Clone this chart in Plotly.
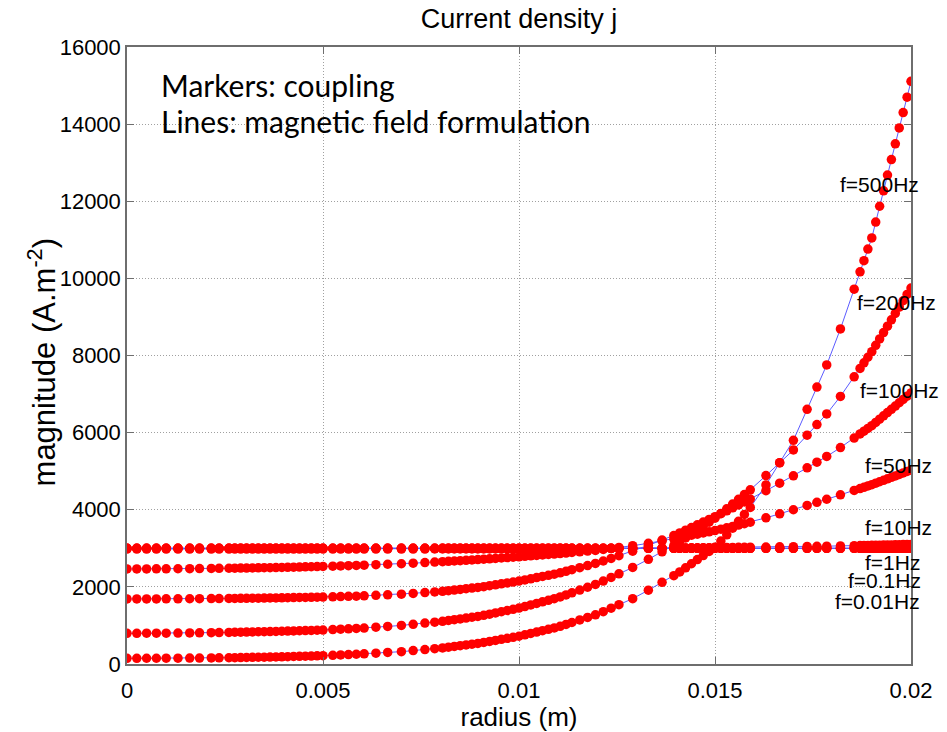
import plotly.graph_objects as go

# Radial mesh nodes (m)
radius = [
    0.0, 0.00025, 0.0005, 0.00075, 0.001, 0.0013, 0.0016, 0.00185, 0.00215, 0.00235,
    0.0026, 0.00275, 0.0029, 0.00305, 0.0032, 0.00335, 0.0035, 0.00365, 0.0038, 0.00395,
    0.0041, 0.00425, 0.0044, 0.00455, 0.0047, 0.00485, 0.005,
    0.00525, 0.00545, 0.00565, 0.00585, 0.00605, 0.00635, 0.00665, 0.007, 0.0073, 0.0076,
    0.00785, 0.00805,
    0.0082, 0.00835, 0.0085, 0.00865, 0.0088, 0.00895, 0.0091, 0.00925, 0.0094, 0.00955,
    0.0097, 0.00985, 0.01, 0.01015, 0.0103, 0.01045, 0.0106, 0.01075, 0.0109, 0.01105,
    0.0112, 0.01135,
    0.01155, 0.01175, 0.01195, 0.01215, 0.01235, 0.01255, 0.0129, 0.0133, 0.01365, 0.01395,
    0.0141, 0.01425, 0.0144, 0.01455, 0.0147, 0.01485, 0.015, 0.01515, 0.0153, 0.01545,
    0.0156, 0.01575, 0.0159,
    0.0163, 0.01665, 0.017, 0.01735, 0.0176, 0.01785, 0.0182, 0.01855,
    0.0187, 0.0188, 0.0189, 0.019, 0.0191, 0.0192, 0.0193, 0.0194, 0.0195, 0.0196,
    0.0197, 0.0198, 0.0199, 0.02,
]

# Current density magnitude (A/m^2); f = 0.01, 0.1 and 1 Hz coincide (uniform)
j_low = [
    3000, 3000, 3000, 3000, 3000, 3000, 3000, 3000, 3000, 3000,
    3000, 3000, 3000, 3000, 3000, 3000, 3000, 3000, 3000, 3000,
    3000, 3000, 3000, 3000, 3000, 3000, 3000,
    3000, 3000, 3000, 3000, 3000, 3000, 3000, 3000, 3000, 3000, 3000, 3000,
    3000, 3000, 3000, 3000, 3000, 3000, 3000, 3000, 3000, 3000, 3000,
    3000, 3000, 3000, 3000, 3000, 3000, 3000, 3000, 3000, 3000, 3000,
    3000, 3000, 3000, 3000, 3000, 3000, 3000, 3000, 3000, 3000,
    3000, 3000, 3000, 3000, 3000, 3000, 3000, 3000, 3000, 3000, 3000, 3000, 3000,
    3000, 3000, 3000, 3000, 3000, 3000, 3000, 3000,
    3000, 3000, 3000, 3000, 3000, 3000, 3000, 3000, 3000, 3000,
    3000, 3000, 3000, 3000,
]

j_10 = [
    2980, 2980, 2980, 2980, 2980, 2980, 2980, 2980, 2980, 2980,
    2980, 2980, 2980, 2980, 2980, 2980, 2980, 2980, 2980, 2980,
    2980, 2980, 2980, 2980, 2980, 2980, 2980,
    2980, 2980, 2980, 2980, 2980, 2980, 2980, 2981, 2981, 2981, 2982, 2982,
    2982, 2982, 2983, 2983, 2983, 2984, 2984, 2985, 2985, 2986, 2986,
    2987, 2987, 2988, 2988, 2989, 2989, 2990, 2991, 2992, 2992, 2993,
    2994, 2995, 2996, 2997, 2998, 2999, 3002, 3005, 3007, 3009,
    3010, 3011, 3013, 3014, 3016, 3017, 3018, 3020, 3022, 3024, 3025, 3027, 3029,
    3034, 3039, 3043, 3048, 3052, 3056, 3063, 3069,
    3072, 3074, 3076, 3078, 3080, 3082, 3084, 3086, 3089, 3091,
    3093, 3096, 3098, 3100,
]

j_50 = [
    2465, 2465, 2466, 2467, 2468, 2470, 2472, 2474, 2477, 2480,
    2483, 2485, 2487, 2489, 2491, 2494, 2497, 2499, 2502, 2504,
    2508, 2511, 2515, 2519, 2522, 2526, 2530,
    2538, 2544, 2551, 2557, 2564, 2575, 2587, 2600, 2615, 2630, 2643, 2653,
    2662, 2671, 2680, 2689, 2698, 2707, 2717, 2728, 2738, 2749, 2759,
    2770, 2780, 2792, 2804, 2816, 2828, 2840, 2852, 2864, 2878, 2892,
    2910, 2928, 2946, 2970, 2996, 3022, 3068, 3130, 3190, 3240,
    3280, 3310, 3340, 3365, 3397, 3429, 3460, 3496, 3532, 3568, 3604, 3640, 3676,
    3790, 3895, 4000, 4112, 4192, 4272, 4386, 4500,
    4550, 4583, 4617, 4650, 4688, 4726, 4764, 4802, 4840, 4878,
    4916, 4954, 4992, 5030,
]

j_100 = [
    1687, 1687, 1688, 1688, 1689, 1690, 1692, 1694, 1696, 1697,
    1699, 1700, 1702, 1704, 1706, 1708, 1710, 1712, 1714, 1716,
    1719, 1722, 1725, 1727, 1730, 1732, 1735,
    1742, 1748, 1754, 1760, 1767, 1781, 1794, 1810, 1831, 1852, 1870, 1885,
    1902, 1918, 1935, 1952, 1968, 1985, 2006, 2030, 2054, 2078, 2102,
    2126, 2150, 2180, 2210, 2240, 2270, 2300, 2330, 2364, 2404, 2445,
    2499, 2553, 2607, 2671, 2739, 2807, 2926, 3077, 3214, 3331,
    3400, 3470, 3540, 3610, 3680, 3750, 3820, 3897, 3973, 4050, 4126, 4203, 4279,
    4495, 4688, 4880, 5087, 5234, 5382, 5612, 5860,
    5967, 6038, 6109, 6180, 6265, 6350, 6435, 6520, 6605, 6690,
    6775, 6860, 6945, 7030,
]

j_200 = [
    797, 797, 798, 799, 800, 802, 805, 808, 812, 815,
    820, 823, 826, 829, 832, 836, 839, 842, 846, 849,
    853, 857, 862, 866, 871, 875, 880,
    892, 902, 912, 922, 933, 954, 975, 1000, 1030, 1060, 1085, 1107,
    1128, 1149, 1170, 1191, 1212, 1233, 1261, 1292, 1324, 1355, 1387,
    1418, 1450, 1490, 1531, 1571, 1612, 1652, 1693, 1738, 1792, 1846,
    1918, 1990, 2062, 2150, 2245, 2339, 2503, 2715, 2908, 3073,
    3168, 3270, 3372, 3474, 3576, 3678, 3780, 3903, 4026, 4149, 4272, 4395, 4518,
    4885, 5218, 5550, 5935, 6210, 6485, 6940, 7448,
    7665, 7810, 7955, 8100, 8265, 8430, 8595, 8760, 8925, 9090,
    9255, 9420, 9585, 9750,
]

j_500 = [
    148, 148, 149, 149, 150, 151, 153, 155, 158, 160,
    162, 164, 167, 169, 172, 175, 178, 181, 184, 187,
    191, 195, 199, 203, 207, 211, 215,
    226, 235, 244, 253, 263, 281, 299, 320, 347, 374, 397, 416,
    436, 456, 475, 495, 514, 534, 558, 585, 612, 639, 666,
    693, 720, 756, 792, 828, 864, 900, 936, 977, 1026, 1076,
    1142, 1208, 1274, 1358, 1448, 1538, 1695, 1914, 2117, 2291,
    2387, 2493, 2600, 2707, 2813, 2920, 3030, 3190, 3350, 3520, 3700, 3880, 4060,
    4645, 5220, 5800, 6605, 7180, 7755, 8690, 9720,
    10170, 10460, 10760, 11050, 11460, 11870, 12270, 12680, 13080, 13490,
    13900, 14300, 14700, 15110,
]

frequency_labels = ["f=0.01Hz", "f=0.1Hz", "f=1Hz", "f=10Hz", "f=50Hz", "f=100Hz", "f=200Hz", "f=500Hz"]
series = [j_low, j_low, j_low, j_10, j_50, j_100, j_200, j_500]

x_ticks = [0, 0.005, 0.01, 0.015, 0.02]
x_tick_text = ["0", "0.005", "0.01", "0.015", "0.02"]
y_ticks = [0, 2000, 4000, 6000, 8000, 10000, 12000, 14000, 16000]
y_tick_text = ["0", "2000", "4000", "6000", "8000", "10000", "12000", "14000", "16000"]

# Where each frequency label sits (left edge in m, centre in A/m^2)
label_pos = {
    "f=500Hz": (0.01814, 12430),
    "f=200Hz": (0.01858, 9367),
    "f=100Hz": (0.01866, 7084),
    "f=50Hz": (0.01878, 5138),
    "f=10Hz": (0.01878, 3529),
    "f=1Hz": (0.01878, 2621),
    "f=0.1Hz": (0.01835, 2154),
    "f=0.01Hz": (0.01802, 1609),
}

AX_FONT = "Liberation Sans, Arial, sans-serif"
NOTE_FONT = "Lato, Open Sans, sans-serif"
LINE_BLUE = "#5b5bff"
MARK_RED = "#ff0000"
AXIS_GREY = "#6e6e6e"

fig = go.Figure()

# Magnetic field formulation: thin lines
for name, vals in zip(frequency_labels, series):
    fig.add_trace(go.Scatter(
        x=radius, y=vals, mode="lines",
        line=dict(color=LINE_BLUE, width=1),
        name=name, showlegend=False, hoverinfo="skip",
    ))

# Coupled model: red markers
for name, vals in zip(frequency_labels, series):
    fig.add_trace(go.Scatter(
        x=radius, y=vals, mode="markers",
        marker=dict(color=MARK_RED, size=9.5, line=dict(width=0)),
        name=name, showlegend=False,
    ))

annotations = []
for text in frequency_labels:
    lx, ly = label_pos[text]
    annotations.append(dict(
        x=lx, y=ly, xref="x", yref="y", text=text, showarrow=False,
        xanchor="left", yanchor="middle",
        font=dict(family=AX_FONT, size=21, color="#000000"),
    ))

annotations += [
    dict(x=0.0405, y=0.939, xref="paper", yref="paper", text="Markers: coupling",
         showarrow=False, xanchor="left", yanchor="middle",
         font=dict(family=NOTE_FONT, size=30, color="#000000")),
    dict(x=0.0405, y=0.8805, xref="paper", yref="paper",
         text="Lines: magnetic field formulation",
         showarrow=False, xanchor="left", yanchor="middle",
         font=dict(family=NOTE_FONT, size=30, color="#000000")),
    # vertical axis title
    dict(x=-0.109, y=0.488, xref="paper", yref="paper",
         text="magnitude (A.m<sup>-2</sup>)", textangle=-90,
         showarrow=False, xanchor="center", yanchor="middle",
         font=dict(family=AX_FONT, size=31, color="#000000")),
]

axis_common = dict(
    showline=True, linecolor=AXIS_GREY, linewidth=1.5, mirror="allticks",
    ticks="inside", ticklen=7, tickcolor=AXIS_GREY, tickwidth=1,
    showgrid=True, gridcolor="#a0a0a0", gridwidth=1, griddash="1px,2px",
    zeroline=False, automargin=False,
    tickfont=dict(family=AX_FONT, size=22, color="#000000"),
)

fig.update_layout(
    width=947, height=732,
    margin=dict(l=127, r=36, t=47, b=68),
    paper_bgcolor="#ffffff", plot_bgcolor="#ffffff",
    title=dict(text="Current density j", x=0.5, xref="paper", xanchor="center",
               y=1 - 19 / 732, yref="container", yanchor="middle",
               font=dict(family=AX_FONT, size=27, color="#000000")),
    xaxis=dict(range=[0, 0.02], tickvals=x_ticks, ticktext=x_tick_text,
               ticklabelstandoff=6,
               title=dict(text="radius (m)", standoff=10,
                          font=dict(family=AX_FONT, size=26, color="#000000")),
               **axis_common),
    yaxis=dict(range=[0, 16000], tickvals=y_ticks, ticktext=y_tick_text,
               **axis_common),
    annotations=annotations,
    showlegend=False,
)

fig.write_html("out.html")
